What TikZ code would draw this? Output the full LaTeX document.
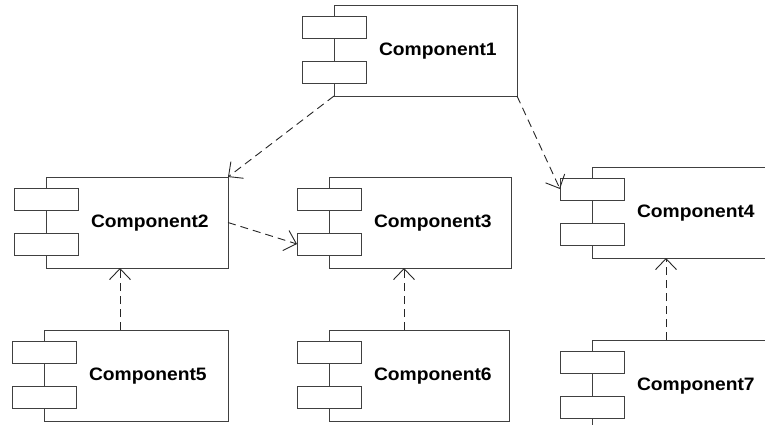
\documentclass[tikz,border=0pt]{standalone}
\usepackage{fontspec}
\setmainfont{Liberation Sans}
\usetikzlibrary{arrows.meta}
\tikzset{
  mainbox/.style={draw=black!75, line width=0.9pt, fill=white, minimum height=91pt, inner sep=0pt, outer sep=0pt},
  portbox/.style={draw=black!75, line width=0.9pt, fill=white, minimum width=64pt, minimum height=22pt, inner sep=0pt, outer sep=0pt},
  lbl/.style={font=\bfseries\fontsize{18}{22}\selectfont, inner sep=0pt, outer sep=0pt},
  dep/.style={draw=black!85, line width=0.9pt, dash pattern=on 8pt off 5pt, -{Straight Barb[length=11pt, width=21pt, line width=0.9pt]}}
}
\newcommand\compbox[5]{%
  \node[mainbox, minimum width=#4, anchor=north west] (#1) at (#2,#3) {};
  \node[portbox, anchor=north west] (#1p1) at ([xshift=-32pt,yshift=-11pt]#1.north west) {};
  \node[portbox, anchor=north west] (#1p2) at ([xshift=-32pt,yshift=-56pt]#1.north west) {};
  \node[lbl, anchor=base west] (#1t) at ([xshift=45pt,yshift=-50pt]#1.north west) {\scalebox{1.07}[1]{#5}};
}
\begin{document}
\begin{tikzpicture}[x=1pt,y=-1pt]
\useasboundingbox (0,0) rectangle (765,424);
\compbox{c1}{334}{5}{183pt}{Component1}
\compbox{c2}{46}{177}{182pt}{Component2}
\compbox{c3}{329}{177}{182pt}{Component3}
\compbox{c4}{592}{167}{200pt}{Component4}
\compbox{c5}{44}{330}{184pt}{Component5}
\compbox{c6}{329}{330}{180pt}{Component6}
\compbox{c7}{592}{340}{200pt}{Component7}
\draw[dep] (c1.south west) -- (c2.north east);
\draw[dep] (c1.south east) -- (c4p1.west);
\draw[dep] (c2.east) -- (c3p2.west);
\draw[dep] ([xshift=76pt]c5.north west) -- ([xshift=74pt]c2.south west);
\draw[dep] ([xshift=75pt]c6.north west) -- ([xshift=75pt]c3.south west);
\draw[dep] ([xshift=74pt]c7.north west) -- ([xshift=74pt]c4.south west);
\end{tikzpicture}
\end{document}
